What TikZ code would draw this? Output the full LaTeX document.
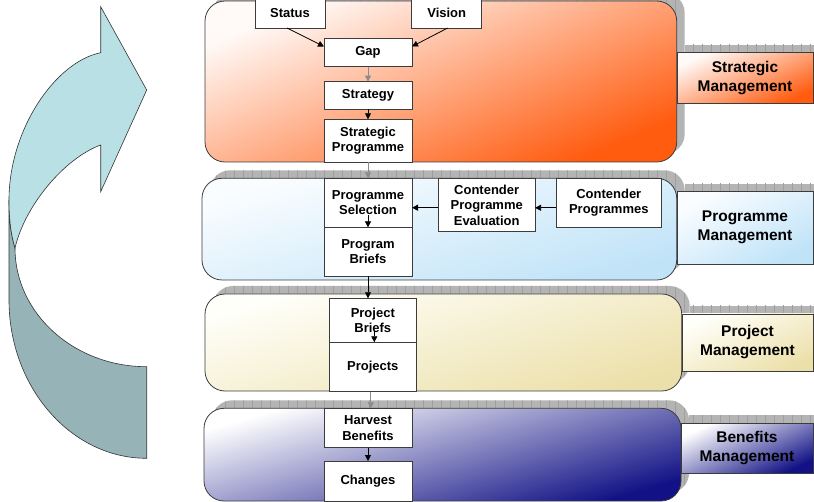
\documentclass[tikz,border=0pt]{standalone}
\usepackage{fontspec}
\setmainfont{Liberation Sans}
\usetikzlibrary{arrows.meta,patterns.meta}

\definecolor{arrowlight}{RGB}{185,224,228}
\definecolor{arrowdark}{RGB}{150,179,183}
\definecolor{redA}{RGB}{255,250,248}
\definecolor{redB}{RGB}{255,186,170}
\definecolor{redC}{RGB}{255,92,16}
\definecolor{bluA}{RGB}{250,253,255}
\definecolor{bluB}{RGB}{222,240,251}
\definecolor{bluC}{RGB}{192,227,248}
\definecolor{yelA}{RGB}{255,255,250}
\definecolor{yelB}{RGB}{250,245,222}
\definecolor{yelC}{RGB}{236,224,170}
\definecolor{purA}{RGB}{255,255,255}
\definecolor{purB}{RGB}{196,196,224}
\definecolor{purC}{RGB}{18,18,134}
\definecolor{shadowgray}{RGB}{180,180,180}
\definecolor{edgegray}{RGB}{60,60,60}
\definecolor{flowgray}{RGB}{140,140,140}

\newcommand\bxfont{\fontsize{13}{15.5}\selectfont\bfseries}
\newcommand\lbfont{\fontsize{15.5}{19}\selectfont\bfseries}

\begin{document}
\begin{tikzpicture}[x=1pt,y=-1pt,
  box/.style={draw=edgegray, fill=white, line width=0.8pt, inner sep=0pt,
    outer sep=0pt, align=center, font=\bxfont},
  lab/.style={draw=edgegray, line width=0.8pt, inner sep=0pt, outer sep=0pt,
    align=center, font=\lbfont},
  band/.style={draw=edgegray, line width=0.8pt, rounded corners=20pt},
  shadowfill/.style={fill=shadowgray},
  shadowlines/.style={pattern={Lines[distance=9pt,angle=90,line width=0.5pt]},
    pattern color=gray!75},
  redfill/.style={top color=redA, middle color=redB, bottom color=redC, shading angle=#1},
  blufill/.style={top color=bluA, middle color=bluB, bottom color=bluC, shading angle=#1},
  yelfill/.style={top color=yelA, middle color=yelB, bottom color=yelC, shading angle=#1},
  purfill/.style={top color=purA, middle color=purB, bottom color=purC, shading angle=#1},
  arr/.style={-{Triangle[length=6pt,width=6pt]}, line width=0.8pt, draw=black},
  garr/.style={-{Triangle[length=6pt,width=6pt]}, line width=0.8pt, draw=flowgray},
  arrowedge/.style={draw=black!80, line width=0.6pt}]

\useasboundingbox (0,0) rectangle (814,502);

% ---- curved return arrow on the left ----
\draw[arrowedge, fill=arrowdark] (9,200) -- (9,300)
  .. controls (9,387) and (70.7,458.3) .. (146.7,458.3) -- (146.7,366.7)
  .. controls (74,366.7) and (15,313.5) .. (15,248)
  .. controls (11,235) and (9,220) .. (9,200) -- cycle;
\draw[arrowedge, fill=arrowlight] (146.7,90) -- (100.7,6.7) -- (100.7,52.7)
  .. controls (55,62) and (9,130) .. (9,200)
  .. controls (9,220) and (11,235) .. (15,248)
  .. controls (25,205) and (65,158) .. (100.7,145) -- (100.7,191.7) -- cycle;

% ---- shadows behind bands and label boxes ----
\foreach \xa/\ya/\xb/\yb in {205/1/676.7/162, 202/178.3/676.7/280,
                            205/294/681.7/391, 204/408.3/681/501} {
  \fill[shadowfill, rounded corners=20pt] (\xa+8,\ya-8) rectangle (\xb+8,\yb-8);
  \fill[shadowlines, rounded corners=20pt] (\xa+8,\ya-8) rectangle (\xb+8,\yb-8);
}
\foreach \xa/\ya/\xb/\yb in {677/52.7/813/103.3, 677/191.7/813/264,
                            682/314/813/371, 681/423.3/813/473.3} {
  \fill[shadowfill] (\xa+8,\ya-8) rectangle (\xb+8,\yb-8);
  \fill[shadowlines] (\xa+8,\ya-8) rectangle (\xb+8,\yb-8);
}

% ---- bands ----
\shade[band, redfill=23] (205,1) rectangle (676.7,162);
\shade[band, blufill=16] (202,178.3) rectangle (676.7,280);
\shade[band, yelfill=16] (205,294) rectangle (681.7,391);
\shade[band, purfill=16] (204,408.3) rectangle (681,501);

% ---- management labels ----
\node[lab, redfill=25, minimum width=136pt, minimum height=50.6pt] (slab) at (745,78)
  {Strategic\\Management};
\node[lab, blufill=28, minimum width=136pt, minimum height=72.3pt] (plab) at (745,227.8)
  {Programme\\Management};
\node[lab, yelfill=25, minimum width=131pt, minimum height=57pt] (jlab) at (747.5,342.5)
  {Project\\Management};
\node[lab, purfill=25, minimum width=132pt, minimum height=50pt] (blab) at (747,448.3)
  {Benefits\\Management};

% ---- process boxes ----
\node[box, minimum width=70pt, minimum height=30pt] (status) at (290,13) {Status};
\node[box, minimum width=70pt, minimum height=30pt] (vision) at (446.7,13) {Vision};
\node[box, minimum width=88pt, minimum height=28.4pt] (gap) at (368,52.5) {Gap};
\node[box, minimum width=88pt, minimum height=27.3pt] (strategy) at (368,95.3) {Strategy};
\node[box, minimum width=88pt, minimum height=43pt] (sprog) at (368,140.8) {Strategic\\Programme};

\node[box, minimum width=88pt, minimum height=49pt] (psel) at (368,202.8) {Programme\\Selection};
\node[box, minimum width=88pt, minimum height=48.7pt] (pbrief) at (368,251.7) {Program\\Briefs};
\node[box, minimum width=96.7pt, minimum height=53.4pt] (cpe) at (486.7,205) {Contender\\Programme\\Evaluation};
\node[box, minimum width=105.7pt, minimum height=49pt] (cp) at (608.8,202.8) {Contender\\Programmes};

\node[box, minimum width=87.7pt, minimum height=44pt] (prjb) at (372.8,320.3) {Project\\Briefs};
\node[box, minimum width=87.7pt, minimum height=49.4pt] (prj) at (372.8,367) {Projects};

\node[box, minimum width=88pt, minimum height=39.4pt] (harv) at (368,428) {Harvest\\Benefits};
\node[box, minimum width=88pt, minimum height=40pt] (chg) at (368,481) {Changes};

% ---- connectors ----
\draw[arr] ([xshift=-3pt]status.south) -- ([yshift=6pt]gap.west);
\draw[arr] ([xshift=1pt]vision.south) -- ([yshift=6pt]gap.east);
\draw[garr] (gap.south) -- (strategy.north);
\draw[arr] (strategy.south) -- (sprog.north);
\draw[garr] (sprog.south) -- (psel.north);
\draw[arr] ([yshift=-5pt]cp.west) -- ([yshift=-5pt]cp.west -| cpe.east);
\draw[arr] ([yshift=-2.7pt]cpe.west) -- ([yshift=-2.7pt]cpe.west -| psel.east);
\draw[arr] ([yshift=12pt]psel.south) -- (pbrief.north);
\draw[arr] (pbrief.south) -- (pbrief.south |- prjb.north);
\draw[arr] ([xshift=1.5pt,yshift=11pt]prjb.south) -- ([xshift=1.5pt]prjb.south);
\draw[garr] ([xshift=-2pt]prj.south) -- ([xshift=-2pt]prj.south |- harv.north);
\draw[arr] (harv.south) -- (chg.north);
\end{tikzpicture}
\end{document}
